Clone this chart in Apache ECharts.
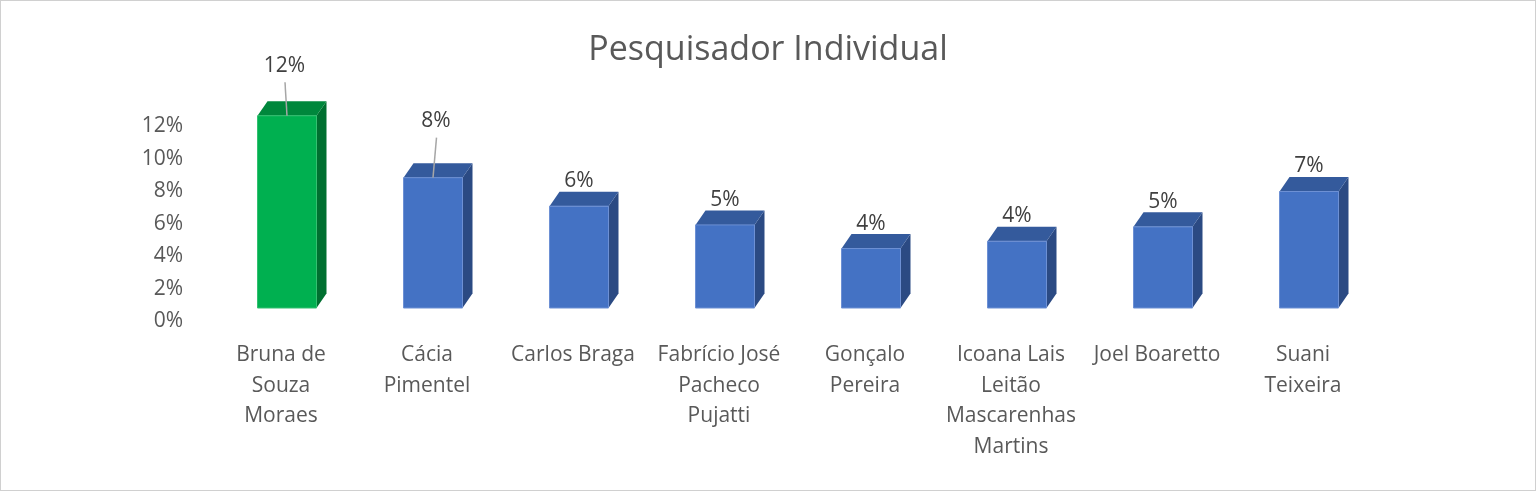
<!DOCTYPE html>
<html>
<head>
<meta charset="utf-8">
<script src="https://cdn.jsdelivr.net/npm/echarts@6/dist/echarts.min.js"></script>
<style>
html,body{margin:0;padding:0;background:#fff;}
#chart{width:1536px;height:491px;box-sizing:border-box;border:1px solid #d0d0d0;}
</style>
</head>
<body>
<div id="chart"></div>
<script>
const categories = ['Bruna de Souza Moraes','Cácia Pimentel','Carlos Braga','Fabrício José Pacheco Pujatti','Gonçalo Pereira','Icoana Lais Leitão Mascarenhas Martins','Joel Boaretto','Suani Teixeira'];
const tickLabels = ['Bruna de\nSouza\nMoraes','Cácia\nPimentel','Carlos Braga','Fabrício José\nPacheco\nPujatti','Gonçalo\nPereira','Icoana Lais\nLeitão\nMascarenhas\nMartins','Joel Boaretto','Suani\nTeixeira'];
const values = [11.8, 8.0, 6.25, 5.1, 3.65, 4.1, 4.98, 7.15];
const yTicks = [0, 2, 4, 6, 8, 10, 12];

const FONT = '"Open Sans", sans-serif';
const highlightIndex = 0;
const colors = {
  blue: {front:'#4472c4', top:'#345a9c', side:'#2b4a83', edge:'#6d90d4'},
  green:{front:'#00b050', top:'#00873c', side:'#006f30', edge:'#33c070'}
};
// manually displaced labels (with leader lines), like the original
const labelShift = {0:{dx:-2.5, dy:-51.5}, 1:{dx:3, dy:-58}};

const chart = echarts.init(document.getElementById('chart'));
chart.setOption({
  animation:false,
  title:{text:'Pesquisador Individual', left:'center', top:27,
    textStyle:{fontFamily:FONT, fontSize:34, fontWeight:'normal', color:'#595959'}},
  grid:{left:207, right:159, top:125, bottom:168.5, containLabel:false},
  xAxis:{type:'category', data:categories,
    axisLine:{show:false}, axisTick:{show:false},
    axisLabel:{interval:0, margin:18.5, color:'#595959', fontFamily:FONT, fontSize:21, lineHeight:30.5,
      formatter:(v, i)=>tickLabels[i]}},
  yAxis:{type:'value', min:yTicks[0], max:yTicks[yTicks.length-1], interval:2,
    axisLine:{show:false}, axisTick:{show:false}, splitLine:{show:false},
    axisLabel:{margin:25, color:'#595959', fontFamily:FONT, fontSize:21, formatter:'{value}%'}},
  series:[{
    type:'custom',
    data: values.map((v,i)=>[i,v]),
    renderItem:(params, api)=>{
      const i = api.value(0), v = api.value(1);
      const base = api.coord([i,0]);
      const topP = api.coord([i,v]);
      const w = 59, dx = 10, dy = 14.5, lift = 13.5;
      const cx = base[0] + 6;
      const x0 = cx - w/2, x1 = cx + w/2;
      const yb = base[1] - lift, yt = topP[1] - lift;
      const c = i === highlightIndex ? colors.green : colors.blue;
      const children = [
        {type:'polygon', shape:{points:[[x1,yt],[x1+dx,yt-dy],[x1+dx,yb-dy],[x1,yb]]}, style:{fill:c.side}},
        {type:'polygon', shape:{points:[[x0,yt],[x1,yt],[x1+dx,yt-dy],[x0+dx,yt-dy]]}, style:{fill:c.top}},
        {type:'rect', shape:{x:x0, y:yt, width:w, height:yb-yt}, style:{fill:c.front, stroke:c.edge, lineWidth:1}}
      ];
      const label = Math.round(v) + '%';
      const sh = labelShift[i];
      let lx = cx, ly = yt - dy - 10.5;
      if (sh) {
        lx = cx + sh.dx; ly = yt + sh.dy + 1.5;
        children.push({type:'line', shape:{x1:lx+0.5, y1:ly+16.5, x2:cx, y2:yt}, style:{stroke:'#a6a6a6', lineWidth:1.5}});
      }
      children.push({type:'text', x:lx, y:ly, style:{text:label, fontFamily:FONT, fontSize:21, fill:'#404040', align:'center', verticalAlign:'middle'}});
      return {type:'group', children};
    }
  }]
});
</script>
</body>
</html>
